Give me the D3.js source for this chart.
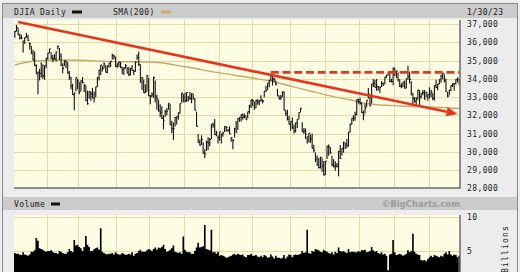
<!DOCTYPE html>
<html>
<head>
<meta charset="utf-8">
<script src="https://cdn.jsdelivr.net/npm/d3@7"></script>
<style>
body { margin: 0; background: #ececec; }
svg { display: block; }
text { font-family: "DejaVu Sans Mono", monospace; font-size: 8px; letter-spacing: 0.4px; fill: #1a1a1a; }
</style>
</head>
<body>
<svg id="chart" width="520" height="272"></svg>
<script>
// trading days, one row per month
const tradingDays = [
  ['2022-01', [3,4,5,6,7,10,11,12,13,14,18,19,20,21,24,25,26,27,28,31]],
  ['2022-02', [1,2,3,4,7,8,9,10,11,14,15,16,17,18,22,23,24,25,28]],
  ['2022-03', [1,2,3,4,7,8,9,10,11,14,15,16,17,18,21,22,23,24,25,28,29,30,31]],
  ['2022-04', [1,4,5,6,7,8,11,12,13,14,18,19,20,21,22,25,26,27,28,29]],
  ['2022-05', [2,3,4,5,6,9,10,11,12,13,16,17,18,19,20,23,24,25,26,27,31]],
  ['2022-06', [1,2,3,6,7,8,9,10,13,14,15,16,17,21,22,23,24,27,28,29,30]],
  ['2022-07', [1,5,6,7,8,11,12,13,14,15,18,19,20,21,22,25,26,27,28,29]],
  ['2022-08', [1,2,3,4,5,8,9,10,11,12,15,16,17,18,19,22,23,24,25,26,29,30,31]],
  ['2022-09', [1,2,6,7,8,9,12,13,14,15,16,19,20,21,22,23,26,27,28,29,30]],
  ['2022-10', [3,4,5,6,7,10,11,12,13,14,17,18,19,20,21,24,25,26,27,28,31]],
  ['2022-11', [1,2,3,4,7,8,9,10,11,14,15,16,17,18,21,22,23,25,28,29,30]],
  ['2022-12', [1,2,5,6,7,8,9,12,13,14,15,16,19,20,21,22,23,27,28,29,30]],
  ['2023-01', [3,4,5,6,9,10,11,12,13,17,18,19,20,23,24,25,26,27,30]]
];

const highs = [
  [36635,36952,36770,36475,36410,36070,36260,36515,36410,36000,35810,35585,35500,34800,34390,34550,34900,34800,34730,35135],
  [35410,35650,35450,35300,35350,35500,35825,35690,35400,34850,35000,35000,34900,34420,34100,33730,33230,34060,34000],
  [33830,33900,34100,33730,33630,33350,33320,33300,33500,33300,33560,34100,34500,34760,34700,34900,34750,34710,34880,34970,35370,35300,35200],
  [34840,34925,34920,34650,34630,34800,34650,34640,34600,34750,34500,34940,35330,35490,34800,34100,33960,33700,34200,34050],
  [33100,33260,34120,33900,33120,32850,32600,32500,32000,32300,32400,32660,32620,31700,31600,31900,31930,32160,32650,33220,33170],
  [33250,33250,33050,33270,33200,33170,32930,32200,30980,30670,30900,30520,30140,30600,30800,30760,31510,31600,31800,31150,30900],
  [31100,31000,31100,31400,31400,31250,31400,30800,30700,31300,31690,31830,31900,32040,32100,32100,31980,32200,32570,32850],
  [32880,32750,32850,32880,32830,33100,32860,33320,33620,33760,33940,34280,34160,34050,33900,33450,33090,33110,33300,33300,32280,32300,31980],
  [31660,31880,31500,31600,31800,32160,32400,31620,31300,31270,30830,31030,30940,31000,30390,29960,29800,29670,29730,29640,29500],
  [29500,30320,30400,30260,29780,29600,29480,29380,30040,30370,30200,30550,30500,30700,31090,31550,31840,32000,32200,32860,32900],
  [32960,32700,32250,32640,32830,33500,33150,33720,33990,33950,33990,33600,33550,33870,33800,34100,34220,34360,34300,34000,34600],
  [34600,34430,34340,33980,33760,33850,33900,34010,34710,34400,33870,33200,33000,33000,33400,33380,33220,33390,33390,33300,33150],
  [33540,33400,33200,33650,33950,33710,33975,34200,34310,34250,34020,33270,33380,33630,33740,33750,33980,34080,33960]
];

const lows = [
  [36250,36580,36400,36150,36160,35440,35900,36250,36050,35600,35350,35010,34700,34260,33150,33900,34070,34000,33950,34580],
  [35040,35400,35080,34900,35050,34940,35600,35030,34700,34300,34700,34580,34290,33930,33420,33130,32270,33320,33420],
  [33150,33320,33760,33270,32800,32580,32900,32800,32930,32700,33000,33550,33900,34200,34400,34570,34350,34300,34600,34650,35050,35050,34660],
  [34600,34640,34580,34250,34200,34550,34300,34150,34180,34420,34200,34380,35040,34700,33800,33380,33230,33200,33300,33050],
  [32600,32990,32950,32700,32300,32200,31900,31800,31230,31900,32000,32300,31470,31030,30640,31390,31500,31750,32100,32700,32700],
  [32700,32730,32750,32850,32660,32850,32270,31390,30500,30340,30380,29900,29650,30050,30100,30300,30700,31320,30930,30850,30450],
  [30600,30450,30830,31080,31100,31100,30970,30550,30140,30780,31040,31200,31640,31660,31750,31840,31750,31840,32080,32400],
  [32500,32300,32400,32570,32550,32760,32640,32990,33300,33390,33530,33880,33630,33820,33630,33060,32870,32850,33000,32280,31970,31720,31500],
  [31150,31250,31000,31050,31300,31800,32160,31080,30970,30700,30460,30500,30500,30180,29960,29440,29250,29090,29090,28900,28710],
  [28730,29600,29780,29900,29210,29140,28960,29140,28660,29600,29800,29950,30150,30200,30300,31050,31500,31680,31700,32000,32640],
  [32580,32140,31730,32100,32460,32900,32500,32640,33550,33520,33350,33350,33220,33550,33600,33700,34050,34190,33820,33790,33640],
  [34150,34040,33850,33550,33480,33530,33460,33480,33950,33740,33080,32600,32700,32570,32850,32570,32900,33100,32870,32970,32800],
  [32920,32990,32820,32810,33480,33370,33700,33780,33980,33800,33290,32990,33080,33320,33550,33340,33690,33800,33700]
];

const closes = [
  [36585,36799,36407,36236,36231,36068,36252,36290,36113,35911,35368,35029,34715,34265,34364,34298,34168,34160,34725,35132],
  [35405,35629,35111,35089,35091,35463,35768,35241,34738,34566,34989,34934,34312,34079,33597,33132,33224,34059,33893],
  [33294,33891,33795,33615,32818,32633,33286,33174,32945,32945,33545,34063,34481,34755,34553,34807,34359,34708,34861,34956,35294,35228,34678],
  [34818,34922,34641,34497,34583,34721,34309,34221,34565,34451,34412,34912,35161,34793,33811,34050,33241,33302,34160,33061],
  [33062,33129,34061,32998,32900,32246,32161,31835,31730,32197,32224,32655,31490,31254,31262,31880,31929,32120,32637,33213,32990],
  [32813,33248,32900,32916,33180,32910,32272,31393,30517,30365,30669,29927,29889,30530,30484,30677,31501,31439,30947,31029,30775],
  [31097,30968,31037,31385,31338,31174,30982,30773,30630,31288,31073,31827,31875,32037,31900,31990,31762,32198,32530,32845],
  [32798,32397,32813,32727,32803,32833,32775,33310,33337,33761,33913,34152,33981,33999,33707,33064,32910,32969,33292,32283,32099,31791,31510],
  [31656,31318,31145,31581,31775,32152,32381,31105,31135,30962,30822,31020,30706,30184,30077,29590,29260,29135,29684,29226,28726],
  [29491,30317,30274,29927,29297,29203,29240,29211,30039,29635,30186,30524,30424,30334,31083,31500,31837,31839,32034,32861,32733],
  [32653,32148,32001,32403,32827,33161,32514,33716,33748,33537,33593,33554,33547,33746,33700,34098,34195,34347,33850,33853,34590],
  [34395,34430,33947,33597,33598,33781,33477,34005,34108,33966,33203,32920,32757,32850,33377,33027,33204,33241,32876,33221,33147],
  [33136,33270,32930,33631,33518,33704,33973,34190,34303,33911,33297,33045,33376,33629,33734,33744,33950,33978,33717]
];

// volume, billions of shares
const volumes = [
  [4.7,4.6,4.6,4.5,4.4,4.8,4.5,4.4,4.3,4.5,4.9,4.9,5.1,6.9,6.5,5.4,5.3,5.2,5.0,4.9],
  [5.0,5.0,5.1,4.9,4.7,4.7,4.6,5.0,4.9,4.7,4.6,4.6,4.8,5.3,5.0,4.8,6.6,5.8,5.9],
  [5.6,5.4,5.0,5.6,7.2,5.9,5.6,5.0,5.0,5.3,5.4,5.5,5.2,8.3,4.9,4.7,4.6,4.5,4.6,4.6,4.7,4.5,4.8],
  [4.6,4.5,4.5,4.7,4.6,4.4,4.5,4.6,4.5,4.8,4.3,4.6,4.7,5.0,5.2,4.9,4.9,4.9,5.1,5.3],
  [5.2,5.0,5.3,5.5,5.2,5.5,5.4,5.6,5.9,5.3,4.9,5.0,5.2,5.4,5.8,4.9,4.8,4.7,4.8,4.6,7.1],
  [5.2,4.9,4.8,4.8,4.6,4.6,5.0,5.5,6.2,5.5,5.6,5.7,8.8,5.3,5.2,5.1,8.1,4.8,4.9,4.6,4.9],
  [4.3,4.4,4.3,4.2,4.0,4.1,4.2,4.3,4.5,4.6,4.4,4.6,4.5,4.4,4.5,4.2,4.1,4.4,4.4,4.6],
  [4.3,4.3,4.4,4.2,4.1,4.3,4.1,4.4,4.3,4.0,4.1,4.5,4.2,3.9,4.3,4.0,4.0,3.9,4.0,4.4,3.9,4.2,4.5],
  [4.4,4.1,4.4,4.5,4.4,4.5,4.6,5.0,4.7,4.8,8.1,4.7,4.6,5.0,4.9,5.3,5.2,5.1,4.9,4.8,5.2],
  [5.0,4.9,4.7,4.6,4.8,4.5,4.9,4.7,5.5,5.0,4.9,5.0,4.8,4.7,5.3,4.8,4.9,4.9,4.8,4.8,5.0],
  [4.9,5.1,5.1,5.2,4.8,4.9,5.0,5.6,5.1,4.9,5.0,4.7,4.6,4.8,4.5,4.6,4.3,2.2,4.5,4.6,6.6],
  [4.8,4.4,4.5,4.6,4.5,4.3,4.4,4.6,5.1,4.8,5.0,7.5,4.9,4.6,4.5,4.4,3.7,3.6,3.7,3.5,3.8],
  [4.1,4.3,4.1,4.4,4.3,4.2,4.1,4.3,4.2,4.6,4.8,4.5,5.0,4.5,4.3,4.5,4.4,4.1,4.3]
];

// 200-day moving average at a few dates
const smaDates = ['2022-01-03','2022-01-20','2022-02-17','2022-04-01','2022-05-02','2022-06-01','2022-07-01',
  '2022-08-01','2022-08-17','2022-09-01','2022-09-20','2022-10-06','2022-10-24','2022-11-09','2022-12-07',
  '2023-01-12','2023-01-30'];
const smaValues = [34755,34970,35030,34935,34920,34660,34320,34040,33850,33600,33330,33060,32840,32620,32510,32430,32370];

const priceTicks = [37000,36000,35000,34000,33000,32000,31000,30000,29000,28000];
const volumeTicks = [10, 5];

// annotations
const trendLine = [['2022-01-05', 37110], ['2023-01-27', 32070]];
const resistance = [['2022-08-16', 34350], ['2023-01-30', 34350]];

const pad = d => (d < 10 ? '0' : '') + d;
const dates = tradingDays.flatMap(([m, days]) => days.map(d => m + '-' + pad(d)));
const hi = highs.flat(), lo = lows.flat(), cl = closes.flat(), vol = volumes.flat();

const plot = {left: 14, right: 460, top: 20, bottom: 188};
const volPanel = {top: 215, bottom: 290};
const red = '#e8341c';

const svg = d3.select('#chart');

const x = d3.scaleBand().domain(dates).range([plot.left, plot.right]).paddingInner(0);
const bw = x.bandwidth();
const cx = d => x(d) + bw / 2;
const y = d3.scaleLinear().domain([28000, 37000]).range([188.3, 24]);
const yv = d3.scaleLinear().domain([0, 10]).range([285.3, 216.7]);

// frame and header bands
svg.append('rect').attr('width', 520).attr('height', 272).attr('fill', '#ececec');
svg.append('rect').attr('x', 2.5).attr('y', 3.5).attr('width', 515).attr('height', 280)
  .attr('fill', 'none').attr('stroke', '#8c8c8c');
svg.append('rect').attr('x', 3).attr('y', 4).attr('width', 514).attr('height', 14).attr('fill', '#cbcbcb');
svg.append('rect').attr('x', 3).attr('y', 197).attr('width', 514).attr('height', 13).attr('fill', '#cbcbcb');

svg.append('text').attr('x', 14).attr('y', 15).text('DJIA Daily');
svg.append('rect').attr('x', 72).attr('y', 10.5).attr('width', 10).attr('height', 3).attr('fill', '#111');
svg.append('text').attr('x', 113).attr('y', 15).text('SMA(200)');
svg.append('rect').attr('x', 161).attr('y', 10.5).attr('width', 10).attr('height', 3).attr('fill', '#d2ad6a');
svg.append('text').attr('x', 467).attr('y', 15).text('1/30/23');

svg.append('text').attr('x', 14).attr('y', 207).text('Volume');
svg.append('rect').attr('x', 51).attr('y', 202.5).attr('width', 9).attr('height', 3).attr('fill', '#111');
svg.append('text').attr('x', 460).attr('y', 207).attr('text-anchor', 'end')
  .style('font-family', '"DejaVu Sans", sans-serif').style('font-weight', 'bold')
  .style('font-size', '8.5px').style('letter-spacing', '0px').style('fill', '#9c9c9c')
  .text('\u00a9BigCharts.com');

// panels
const panels = [[plot.top, plot.bottom], [volPanel.top, volPanel.bottom]];
panels.forEach(([t, b]) => {
  svg.append('rect').attr('x', plot.left).attr('y', t).attr('width', plot.right - plot.left)
    .attr('height', b - t).attr('fill', '#fdfde3');
});

const monthStarts = tradingDays.slice(1).map(([m, days]) => m + '-' + pad(days[0]));
const grid = svg.append('g').attr('stroke', '#e2dba8').attr('stroke-width', 1);
panels.forEach(([t, b]) => {
  grid.selectAll(null).data(monthStarts).enter().append('line')
    .attr('x1', d => Math.round(x(d)) + 0.5).attr('x2', d => Math.round(x(d)) + 0.5)
    .attr('y1', t).attr('y2', b);
});
grid.selectAll(null).data(priceTicks.slice(0, -1)).enter().append('line')
  .attr('x1', plot.left).attr('x2', plot.right)
  .attr('y1', d => Math.round(y(d)) + 0.5).attr('y2', d => Math.round(y(d)) + 0.5);
grid.selectAll(null).data(volumeTicks).enter().append('line')
  .attr('x1', plot.left).attr('x2', plot.right)
  .attr('y1', d => Math.round(yv(d)) + 0.5).attr('y2', d => Math.round(yv(d)) + 0.5);

// SMA
const sma = smaDates.map((d, i) => [cx(d), y(smaValues[i])]);
svg.append('path').attr('d', d3.line().curve(d3.curveMonotoneX)(sma))
  .attr('fill', 'none').attr('stroke', '#c9a66b').attr('stroke-width', 1.4);

// price bars
const bars = svg.append('g').attr('stroke', '#111').attr('stroke-width', 1.1);
bars.selectAll('line.hl').data(dates).enter().append('line')
  .attr('x1', cx).attr('x2', cx)
  .attr('y1', (d, i) => y(hi[i])).attr('y2', (d, i) => y(lo[i]));
bars.selectAll('line.c').data(dates).enter().append('line')
  .attr('x1', cx).attr('x2', d => cx(d) + 1.3)
  .attr('y1', (d, i) => y(cl[i])).attr('y2', (d, i) => y(cl[i]));

// volume as one solid stepped area (last day closed off with its own bar)
const volArea = d3.area()
  .curve(d3.curveStepAfter)
  .x(d => x(d))
  .y0(yv(0))
  .y1((d, i) => yv(vol[i]));
svg.append('path').attr('d', volArea(dates)).attr('fill', '#000');
const last = dates.length - 1;
svg.append('rect').attr('x', x(dates[last])).attr('width', bw)
  .attr('y', yv(vol[last])).attr('height', yv(0) - yv(vol[last]))
  .attr('fill', '#000');

// panel borders (right and bottom)
svg.append('path').attr('d', `M${plot.left},${plot.bottom}H${plot.right}V${plot.top}`)
  .attr('fill', 'none').attr('stroke', '#6a6a6a').attr('stroke-width', 1.5);
svg.append('line').attr('x1', plot.right).attr('x2', plot.right).attr('y1', volPanel.top).attr('y2', 272)
  .attr('stroke', '#6a6a6a').attr('stroke-width', 1.5);

// annotations
const [a, b] = trendLine.map(([d, v]) => [cx(d), y(v)]);
const ang = Math.atan2(b[1] - a[1], b[0] - a[0]);
const headLen = 11, headW = 4.5;
const base = [b[0] - headLen * Math.cos(ang), b[1] - headLen * Math.sin(ang)];
svg.append('line').attr('x1', a[0]).attr('y1', a[1]).attr('x2', base[0]).attr('y2', base[1])
  .attr('stroke', red).attr('stroke-width', 2.6);
svg.append('path')
  .attr('d', `M${b[0]},${b[1]}L${base[0] + headW * Math.sin(ang)},${base[1] - headW * Math.cos(ang)}` +
    `L${base[0] - headW * Math.sin(ang)},${base[1] + headW * Math.cos(ang)}Z`)
  .attr('fill', red);

svg.append('line')
  .attr('x1', cx(resistance[0][0])).attr('x2', cx(resistance[1][0]))
  .attr('y1', y(resistance[0][1])).attr('y2', y(resistance[1][1]))
  .attr('stroke', red).attr('stroke-width', 2.6).attr('stroke-dasharray', '8,3.7');

// axes
const priceAxis = svg.append('g').attr('transform', `translate(${plot.right},0)`)
  .call(d3.axisRight(y).tickValues(priceTicks).tickSize(0).tickPadding(7).tickFormat(d3.format(',')));
const volAxis = svg.append('g').attr('transform', `translate(${plot.right},0)`)
  .call(d3.axisRight(yv).tickValues(volumeTicks).tickSize(0).tickPadding(7));
[priceAxis, volAxis].forEach(g => {
  g.select('.domain').remove();
  g.selectAll('text').attr('fill', '#1a1a1a');
});

svg.append('text').attr('transform', 'translate(508,249) rotate(-90)').attr('text-anchor', 'middle')
  .style('letter-spacing', '1.2px').text('Billions');
</script>
</body>
</html>
